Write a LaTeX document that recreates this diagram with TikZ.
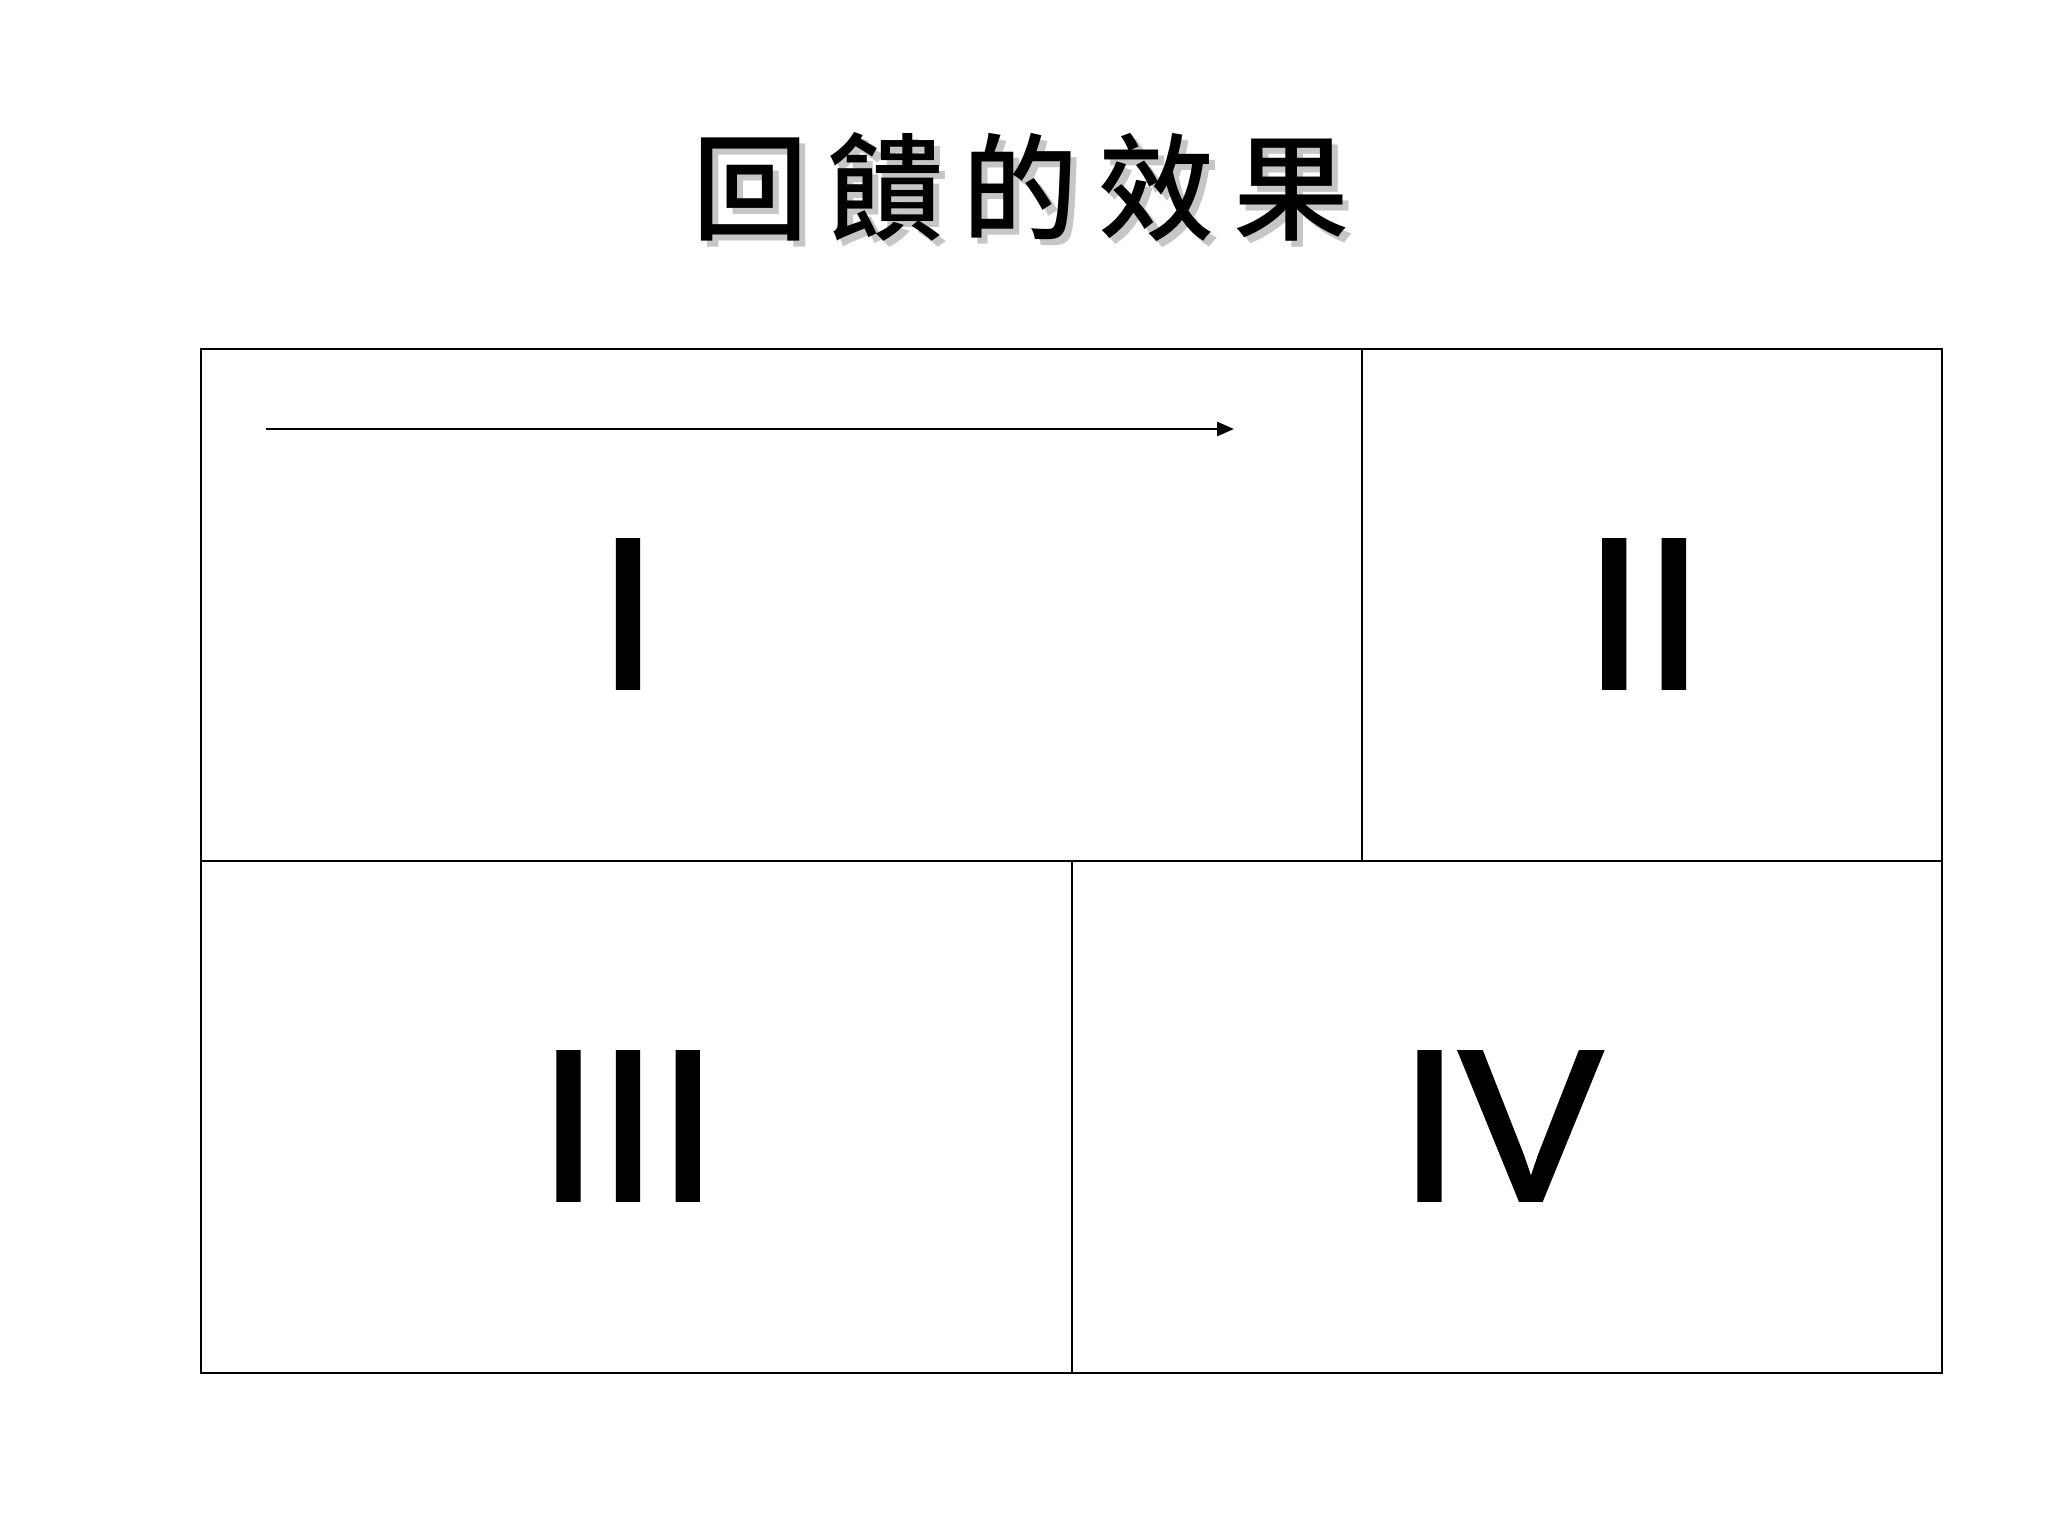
\documentclass[tikz,border=0pt]{standalone}
\usepackage{tikz}
\usetikzlibrary{arrows.meta}
\usepackage{fontspec}
\setmainfont{Liberation Sans}
\newfontfamily\numfont{Liberation Sans}[FakeBold=2]
\newfontfamily\cjktc{Noto Sans CJK TC}[UprightFont={* Medium}]

\newcommand{\titlegap}{\kern0.165em}

\tikzset{
  numeral/.style={font=\numfont\fontsize{61}{61}\selectfont, inner sep=0pt},
  titletext/.style={font=\cjktc\fontsize{33}{34}\selectfont, inner sep=0pt},
}

\begin{document}
\begin{tikzpicture}[x=0.01cm,y=-0.01cm]
\useasboundingbox (0,0) rectangle (2048,1536);

%title
\node[titletext,gray!45] (titleshadow) at (1027,193) {回\titlegap 饋\titlegap 的\titlegap 效\titlegap 果};
\node[titletext] (title) at (1021,187) {回\titlegap 饋\titlegap 的\titlegap 效\titlegap 果};

%frame
\draw[line width=0.8pt] (201,349) rectangle (1942,1373);
\draw[line width=0.8pt] (201,861) -- (1942,861);
\draw[line width=0.8pt] (1362,349) -- (1362,861);
\draw[line width=0.8pt] (1072,861) -- (1072,1373);

%arrow
\coordinate (arrowstart) at (266,429);
\coordinate (arrowend) at (1234,429);
\draw[line width=0.8pt,-{Triangle[length=0.17cm,width=0.14cm]}] (arrowstart) -- (arrowend);

%numerals
\node[numeral] (one) at (628,614) {I};
\node[numeral] (two) at (1644,614) {II};
\node[numeral] (three) at (628,1126) {III};
\node[numeral] (four) at (1501,1126) {IV};
\end{tikzpicture}
\end{document}
